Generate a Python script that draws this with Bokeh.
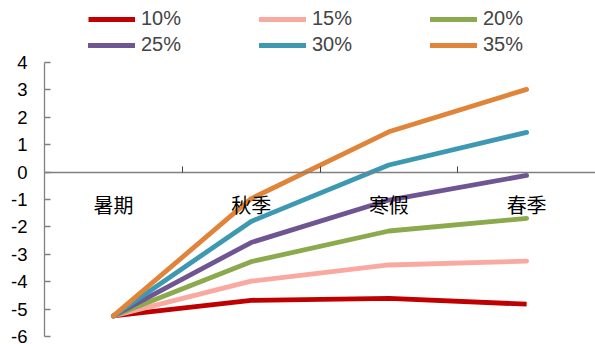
from bokeh.plotting import figure
from bokeh.models import (Legend, LegendItem, LinearAxis, FixedTicker, Range1d,
                          ColumnDataSource)
from bokeh.core.properties import value
from bokeh.embed import file_html
from bokeh.resources import INLINE

categories = ["暑期", "秋季", "寒假", "春季"]
series_names = ["10%", "15%", "20%", "25%", "30%", "35%"]
s10 = [-5.25, -4.68, -4.61, -4.82]
s15 = [-5.25, -3.98, -3.39, -3.25]
s20 = [-5.25, -3.27, -2.15, -1.69]
s25 = [-5.25, -2.57, -1.02, -0.12]
s30 = [-5.25, -1.80, 0.26, 1.45]
s35 = [-5.25, -0.97, 1.47, 3.02]
y_ticks = [-6, -5, -4, -3, -2, -1, 0, 1, 2, 3, 4]

colors = ["#C00000", "#F9A9A0", "#8AAA4D", "#6F5592", "#3D99B1", "#DF8439"]
caps = ["butt", "round", "round", "round", "round", "round"]
all_series = [s10, s15, s20, s25, s30, s35]

xpos = [i + 0.5 for i in range(len(categories))]

# frame spans the full height; the axis itself is bounded to [-6, 4]
y_min, y_max = -6, 4
y_view_top = 6.263  # leaves room for the legend above the axis top

p = figure(width=595, height=344, output_backend="svg", toolbar_location=None,
           x_range=Range1d(0, 4), y_range=Range1d(y_min, y_view_top),
           min_border_left=44, min_border_right=0, min_border_bottom=8,
           min_border_top=0)
p.outline_line_color = None
p.xgrid.visible = False
p.ygrid.visible = False
p.xaxis.visible = False

# y axis
ya = p.yaxis[0]
ya.ticker = FixedTicker(ticks=y_ticks)
ya.bounds = (y_min, y_max)
ya.major_label_overrides = {t: str(t) for t in y_ticks}
ya.major_tick_in = 6
ya.major_tick_out = 0
ya.minor_tick_line_color = None
ya.axis_line_color = "#808080"
ya.axis_line_width = 1.3
ya.major_tick_line_color = "#808080"
ya.major_tick_line_width = 1.3
ya.major_label_text_font = "Liberation Sans"
ya.major_label_text_font_size = "18.5px"
ya.major_label_text_color = "#000000"
ya.major_label_standoff = 17

# x axis drawn at y = 0
xa = LinearAxis(fixed_location=0, ticker=FixedTicker(ticks=[1, 2, 3]))
xa.major_tick_in = 6
xa.major_tick_out = 0
xa.minor_tick_line_color = None
xa.axis_line_color = "#808080"
xa.axis_line_width = 1.3
xa.major_tick_line_color = "#404040"
xa.major_label_text_alpha = 0
xa.major_label_text_font_size = "1px"
xa.major_label_standoff = 0
p.add_layout(xa, "below")

items = []
for name, ys, c, cap in zip(series_names, all_series, colors, caps):
    src = ColumnDataSource(dict(x=xpos, y=ys))
    r = p.line("x", "y", source=src, line_color=c, line_width=4.8,
               line_cap=cap, line_join="round")
    items.append(LegendItem(label=name, renderers=[r]))

# category labels
lab_src = ColumnDataSource(dict(x=xpos, y=[-1.2] * len(categories), t=categories))
p.text("x", "y", text="t", source=lab_src, text_font=value("Noto Sans CJK SC"),
       text_font_size="20px", text_align="center", text_baseline="middle",
       text_color="#000000")

legend = Legend(items=items, orientation="horizontal", nrows=2,
                location=(44, 280))
legend.label_text_font = "Liberation Sans"
legend.label_text_font_size = "20px"
legend.label_height = 20
legend.glyph_height = 20
legend.glyph_width = 47
legend.label_standoff = 6
legend.label_width = 115
legend.spacing = 3
legend.padding = 0
legend.margin = 0
legend.border_line_color = None
legend.background_fill_alpha = 0
p.add_layout(legend, "center")

open("out.html", "w").write(file_html(p, INLINE))
